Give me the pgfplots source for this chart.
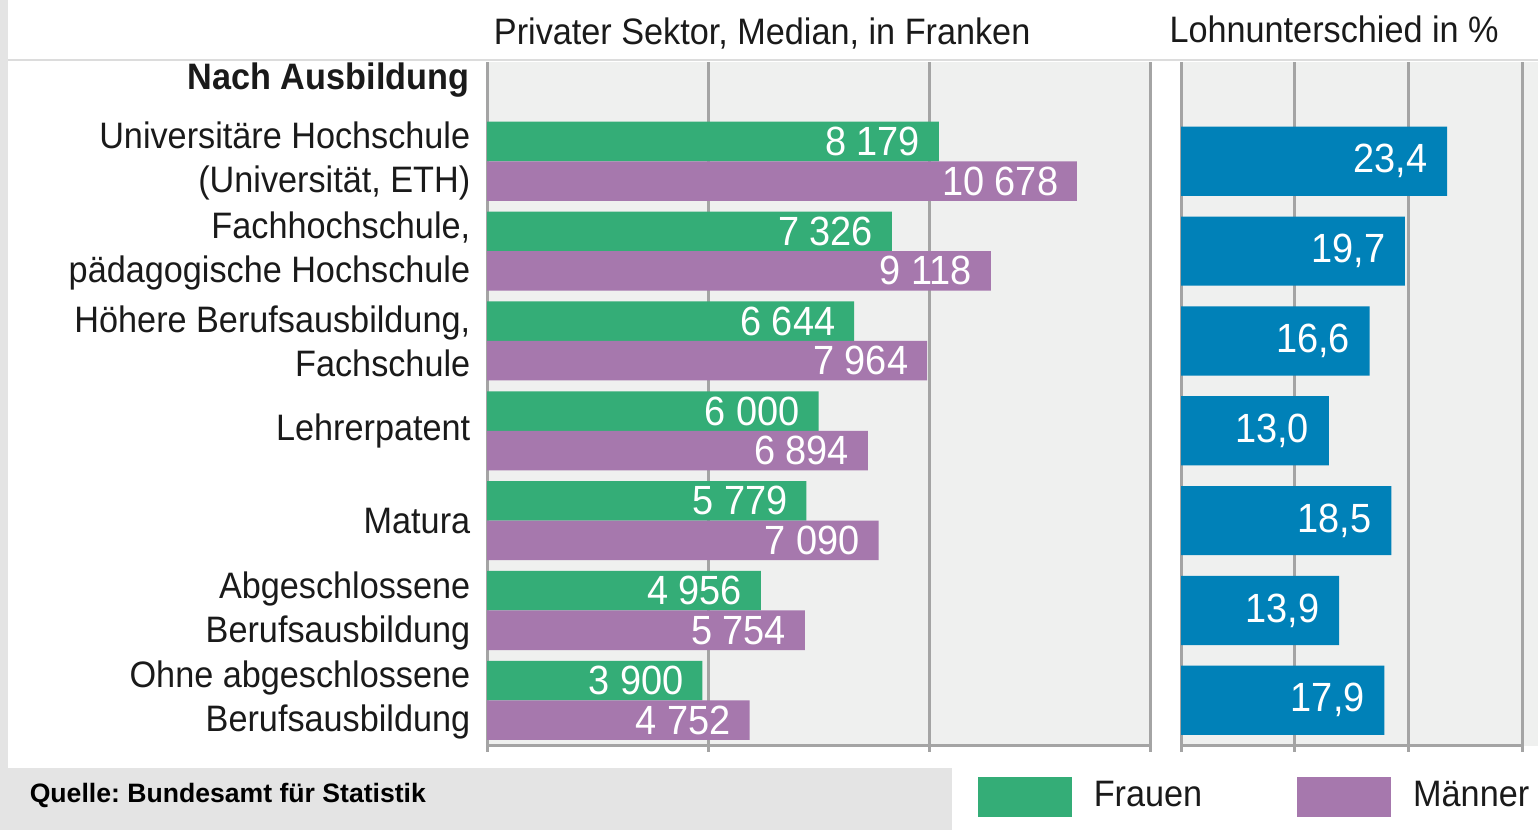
\documentclass[border=0pt]{standalone}
\usepackage{fontspec}
\setmainfont{Liberation Sans}[FakeStretch=0.93]
\newfontfamily\srcfont{Liberation Sans}
\usepackage{pgfplots}
\pgfplotsset{compat=1.18}
\frenchspacing

\definecolor{frauen}{HTML}{34AD77}
\definecolor{maenner}{HTML}{A678AD}
\definecolor{diff}{HTML}{0081B8}
\definecolor{panel}{HTML}{EFF0EF}
\definecolor{gridc}{HTML}{A4A4A4}
\definecolor{textc}{HTML}{1A1A1A}
\definecolor{boxc}{HTML}{E4E4E4}
\definecolor{rulec}{HTML}{DCDCDC}

\newcommand\lab{\fontsize{9.2pt}{11pt}\selectfont}
\newcommand\val{\fontsize{10.2pt}{12pt}\selectfont}

\pgfplotsset{
  every axis title shift=0pt,
  panel/.style={
    scale only axis, height=171pt,
    anchor=north west,
    ymin=-0.508, ymax=7.105,
    axis background/.style={fill=panel},
    axis x line*=bottom, axis y line*=left,
    y axis line style={draw=none},
    x axis line style={gridc, line width=0.75pt, -},
    xmajorgrids, grid style={gridc, line width=0.75pt},
    scaled x ticks=false,
    xticklabels={}, tick align=outside, major tick length=1.5pt,
    xtick style={gridc, line width=0.75pt},
    ytick style={draw=none},
    xbar,
    nodes near coords, point meta=x,
    every node near coord/.append style={text=white, font=\val, anchor=east, inner sep=0pt},
    /pgf/number format/assume math mode=true,
    title style={font=\lab, text=textc, anchor=center},
    clip=false,
  },
}

\begin{document}
\begin{tikzpicture}
\useasboundingbox (0pt,0pt) rectangle (384.5pt,-207.5pt);
\begin{scope}[x=0.25pt, y=-0.25pt]
  \fill[white] (0,0) rectangle (1538,830);
  \fill[boxc] (0,0) rectangle (8,830);
  \fill[boxc] (0,768) rectangle (952,830);
  \draw[rulec, line width=0.5pt] (8,60) -- (1538,60);
  \fill[panel] (1522,62) rectangle (1538,746);
  \node[anchor=west, inner sep=0pt, font=\srcfont\bfseries\fontsize{6.65pt}{8pt}\selectfont] at (29,795) {Quelle: Bundesamt für Statistik};
  \node[anchor=east, inner sep=0pt, text=textc, font=\lab\bfseries] at (470,80) {Nach Ausbildung};
\end{scope}

% Lohn nach Ausbildung
\begin{axis}[panel,
  at={(121.75pt,-15.5pt)}, width=165.75pt,
  xmin=0, xmax=12000, xtick={0,4000,8000,12000},
  ytick={0,1,2,3,4,5,6},
  yticklabels={{Ohne abgeschlossene\\Berufsausbildung},
               {Abgeschlossene\\Berufsausbildung},
               Matura, Lehrerpatent,
               {Höhere Berufsausbildung,\\Fachschule},
               {Fachhochschule,\\pädagogische Hochschule},
               {Universitäre Hochschule\\(Universität, ETH)}},
  yticklabel style={align=right, font=\lab, text=textc, inner sep=0pt, xshift=-2.5pt},
  bar width=0.44,
  every node near coord/.append style={xshift=-4.5pt},
  /pgf/number format/1000 sep={\ },
  title={Privater Sektor, Median, in Franken},
  title style={at={(0.415,1.042)}},
  legend columns=-1,
  legend image code/.code={\fill[#1] (0pt,-5.1pt) rectangle (23.5pt,5.1pt);},
  legend style={at={(0.739,-0.0746)}, anchor=west, draw=none, fill=none,
    inner sep=0pt, font=\lab, text=textc,
    nodes={inner sep=0pt},
    /tikz/every odd column/.append style={column sep=5.5pt},
    /tikz/every even column/.append style={column sep=23.75pt}},
]
\addplot[fill=frauen, draw=none, bar shift=0.22] coordinates {
  (3900,0) (4956,1) (5779,2) (6000,3) (6644,4) (7326,5) (8179,6)};
\addlegendentry{Frauen}
\addplot[fill=maenner, draw=none, bar shift=-0.22] coordinates {
  (4752,0) (5754,1) (7090,2) (6894,3) (7964,4) (9118,5) (10678,6)};
\addlegendentry{Männer}
\end{axis}

% Lohnunterschied
\begin{axis}[panel,
  at={(295.25pt,-15.5pt)}, width=85.25pt,
  xmin=0, xmax=30, xtick={0,10,20,30},
  ytick=\empty,
  bar width=0.77,
  every node near coord/.append style={xshift=-4.75pt},
  /pgf/number format/.cd, fixed, fixed zerofill, precision=1, use comma, /pgfplots/.cd,
  title={Lohnunterschied in \%},
  title style={at={(0.449,1.047)}},
]
\addplot[fill=diff, draw=none, bar shift=0] coordinates {
  (17.9,0) (13.9,1) (18.5,2) (13.0,3) (16.6,4) (19.7,5) (23.4,6)};
\end{axis}
\end{tikzpicture}
\end{document}
